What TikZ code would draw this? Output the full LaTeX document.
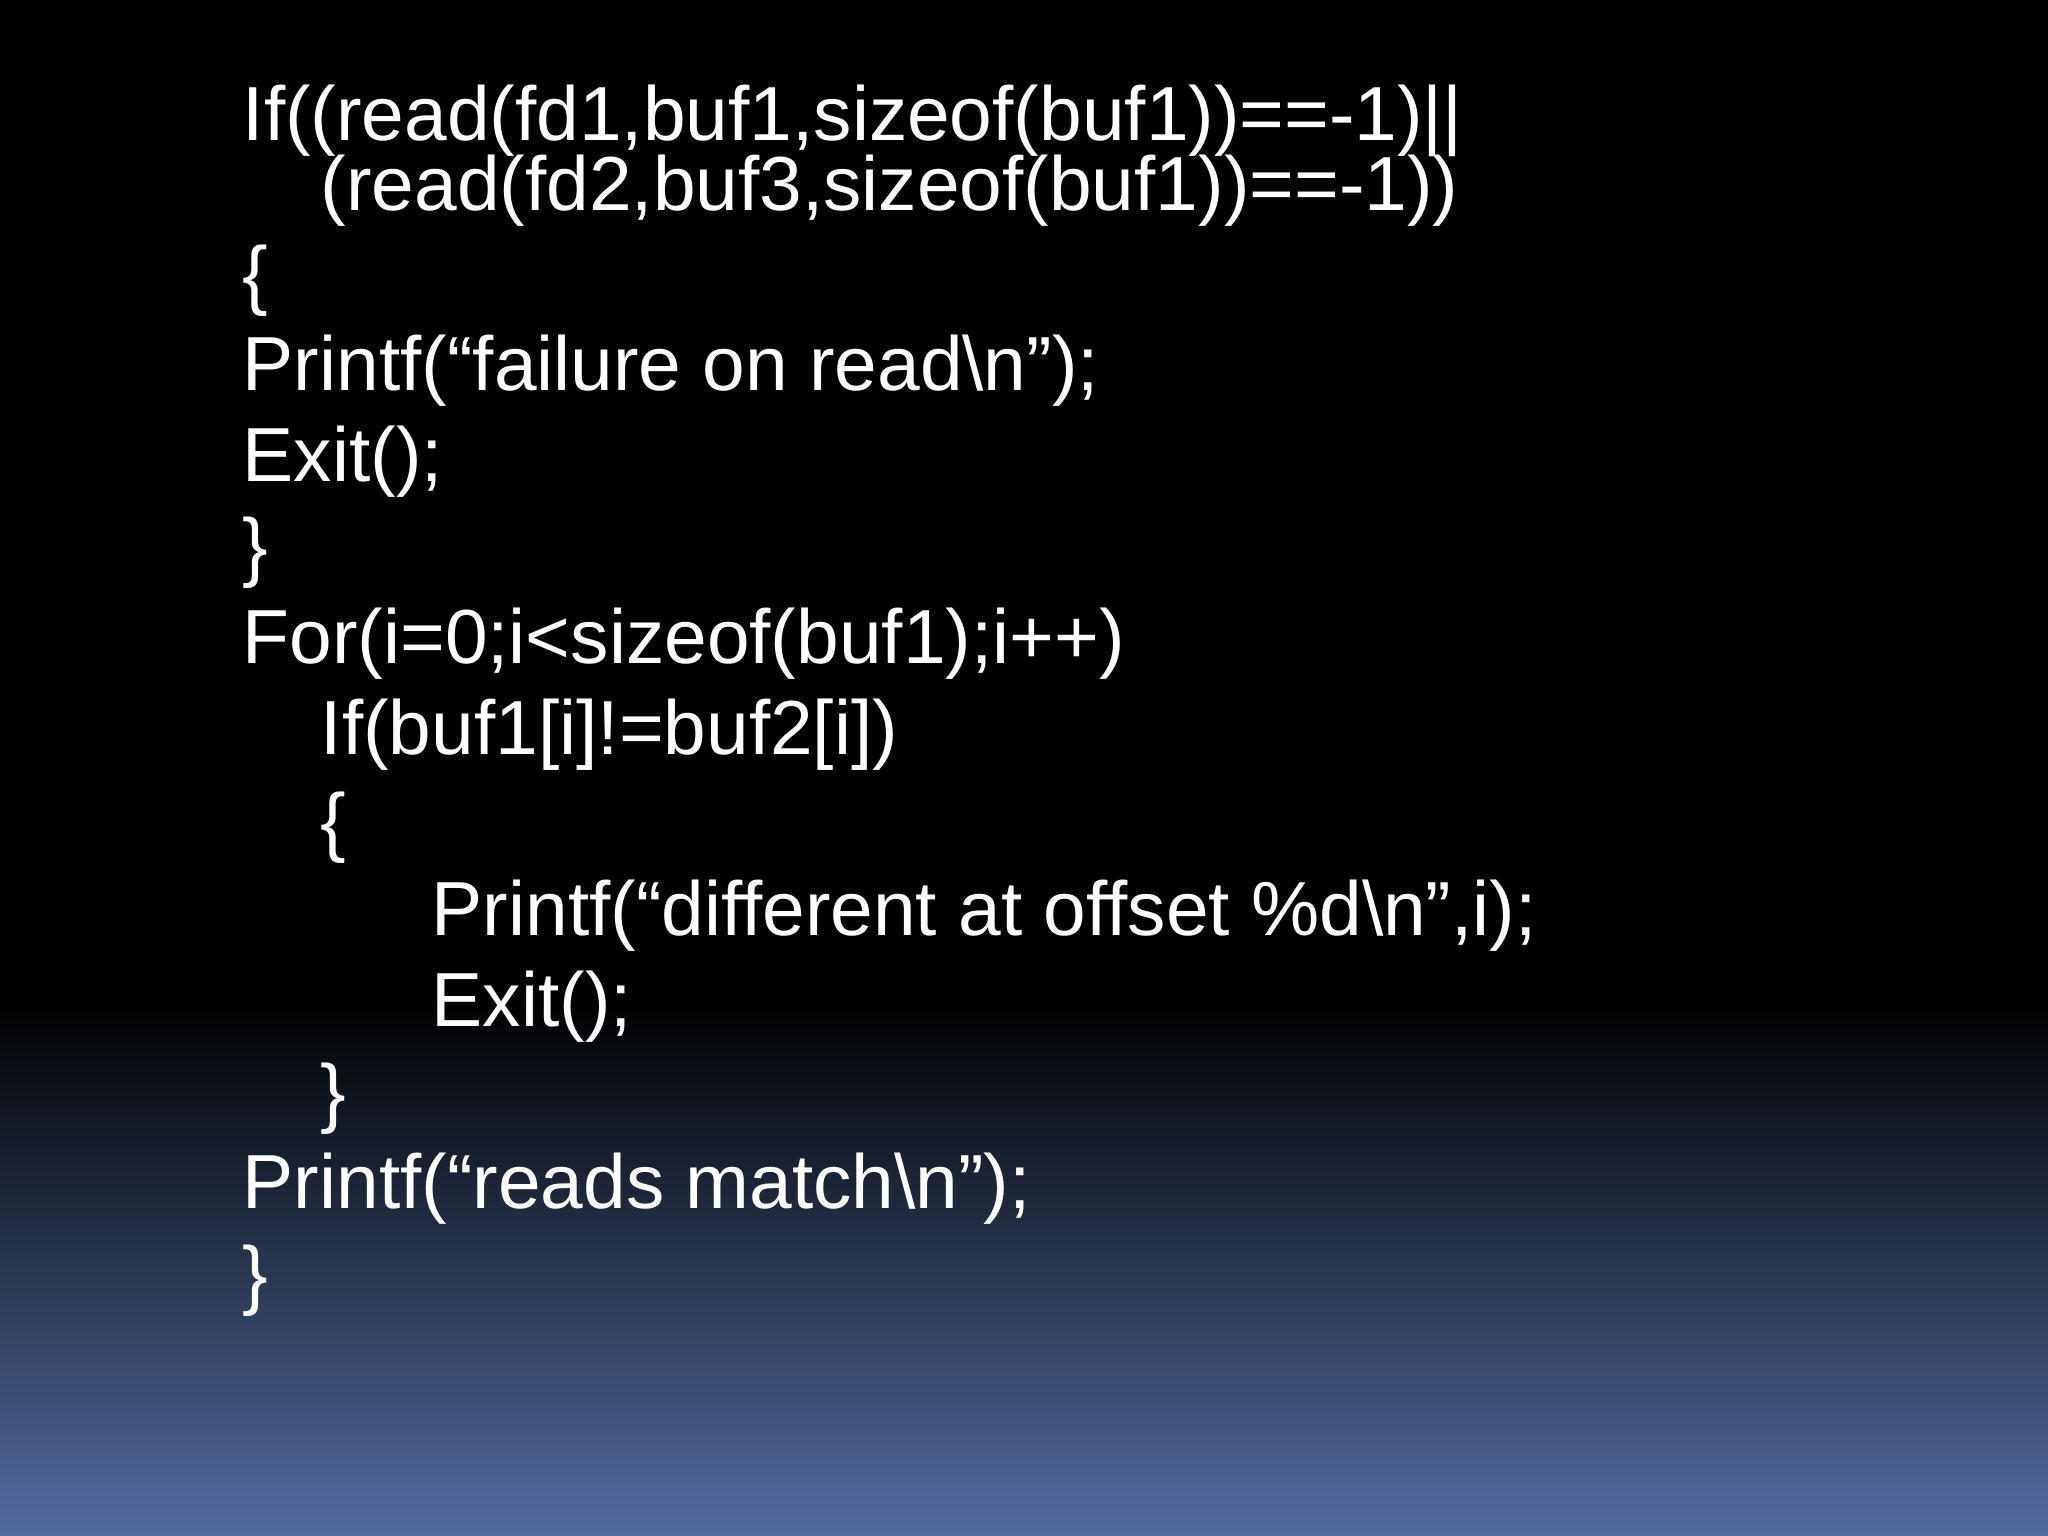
\documentclass[tikz,border=0pt]{standalone}
\usepackage{fontspec}
\setmainfont{Liberation Sans}
\definecolor{bgblue}{RGB}{82,108,160}
\begin{document}
\begin{tikzpicture}[x=0.01cm,y=-0.01cm,
  code/.style={anchor=base west,inner sep=0pt,text=white,font=\fontsize{21.8pt}{24pt}\selectfont}]
\useasboundingbox (0,0) rectangle (2048,1536);
\fill[black] (0,0) rectangle (2048,1000);
\shade[top color=black,bottom color=bgblue] (0,1000) rectangle (2048,1536);
\node[code] (l1) at (242,140) {If((read(fd1,buf1,sizeof(buf1))==-1)||};
\node[code] (l2) at (320,210) {(read(fd2,buf3,sizeof(buf1))==-1))};
\node[code] (l3) at (242,300) {\{};
\node[code] (l4) at (242,390) {Printf(“failure on read\textbackslash n”);};
\node[code] (l5) at (242,481) {Exit();};
\node[code] (l6) at (242,572) {\}};
\node[code] (l7) at (242,663) {For(i=0;i<sizeof(buf1);i++)};
\node[code] (l8) at (320,754) {If(buf1[i]!=buf2[i])};
\node[code] (l9) at (320,847) {\{};
\node[code] (l10) at (431,935) {Printf(“different at offset \%d\textbackslash n”,i);};
\node[code] (l11) at (431,1026) {Exit();};
\node[code] (l12) at (320,1118) {\}};
\node[code] (l13) at (242,1208) {Printf(“reads match\textbackslash n”);};
\node[code] (l14) at (242,1300) {\}};
\end{tikzpicture}
\end{document}
